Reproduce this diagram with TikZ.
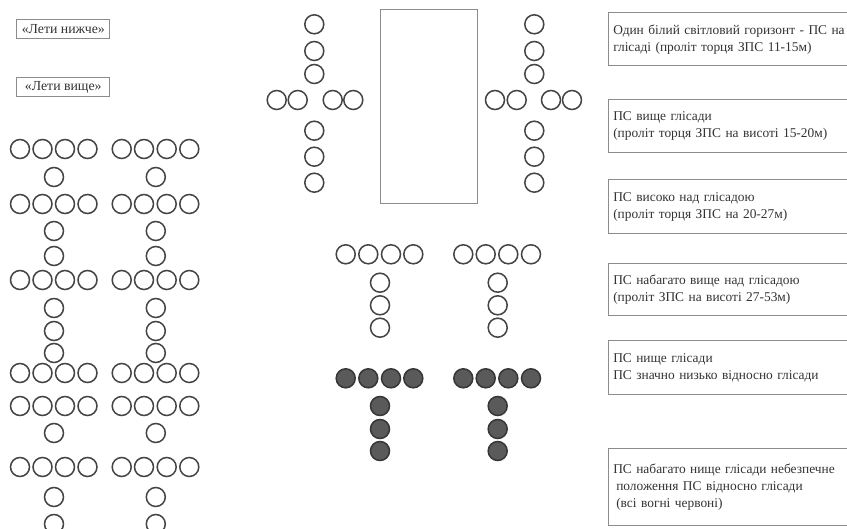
\documentclass[tikz,border=0pt]{standalone}
\usepackage{fontspec}
\setmainfont{Liberation Serif}
\definecolor{lampline}{HTML}{444444}
\definecolor{lampfill}{HTML}{5A5A5A}
\definecolor{boxline}{HTML}{8C8C8C}
\definecolor{txt}{HTML}{333333}
\tikzset{
  lamp/.style={circle, draw=lampline, line width=1.5pt, minimum size=19pt, inner sep=0pt},
  redlamp/.style={lamp, fill=lampfill, draw=lampline!80!black},
  infobox/.style={draw=boxline, line width=1.1pt, anchor=north west, text width=235pt,
    align=left, inner xsep=5pt, inner ysep=0pt, text=txt,
    font=\fontsize{13.4}{17}\selectfont},
  cmdbox/.style={draw=boxline, line width=1.1pt, minimum width=93pt, minimum height=19.5pt,
    inner sep=0pt, text=txt, font=\fontsize{13.8}{15}\selectfont},
  runway/.style={draw=boxline, line width=1.1pt}
}
\begin{document}
\begin{tikzpicture}[x=1pt,y=-1pt]
\useasboundingbox (0,0) rectangle (847,529);
\clip (0,0) rectangle (847,529);
\fill[white] (0,0) rectangle (847,529);

% command boxes
\node[cmdbox] (low) at (63.3,29.2) {«Лети нижче»};
\node[cmdbox] (high) at (63.3,87) {«Лети вище»};

% left column of signals
\foreach \y [count=\j] in {149,204,280,373,406,467}{
  \foreach \x [count=\i] in {20,42.5,65,87.5,121.7,144,166.7,189.3}{
    \node[lamp] (row\j-\i) at (\x,\y) {};
  }
}
\foreach \y [count=\j] in {177,231,256,308,331,353,433,497,524}{
  \node[lamp] (sa\j) at (54,\y) {};
  \node[lamp] (sb\j) at (155.8,\y) {};
}

% runway
\node[runway, minimum width=96.7pt, minimum height=194.3pt, anchor=north west, inner sep=0pt] (rwy) at (380,9) {};

% crosses
\foreach \y [count=\j] in {24.3,51,74,130.7,156.7,182.7}{
  \node[lamp] (cl\j) at (314.3,\y) {};
  \node[lamp] (cr\j) at (534.3,\y) {};
}
\foreach \x [count=\i] in {276.7,297.7,332.7,353.3}{
  \node[lamp] (hl\i) at (\x,100) {};
}
\foreach \x [count=\i] in {495,516.7,551,572}{
  \node[lamp] (hr\i) at (\x,100) {};
}

% T shapes
\foreach \x [count=\i] in {345.7,368.3,391,413.3,463.3,485.7,508.3,531}{
  \node[lamp] (tw\i) at (\x,254.3) {};
  \node[redlamp] (tr\i) at (\x,378.3) {};
}
\foreach \y [count=\j] in {282.7,305.3,327.7}{
  \node[lamp] (twa\j) at (380,\y) {};
  \node[lamp] (twb\j) at (497.7,\y) {};
}
\foreach \y [count=\j] in {406,429,451}{
  \node[redlamp] (tra\j) at (380,\y) {};
  \node[redlamp] (trb\j) at (497.7,\y) {};
}

% explanation boxes
\node[infobox, minimum height=52.7pt] (b1) at (607.7,12.3)
  {Один білий світловий горизонт - ПС на\\глісаді (проліт торця ЗПС 11-15м)};
\node[infobox, minimum height=53.3pt] (b2) at (607.7,99)
  {ПС вище глісади\\(проліт торця ЗПС на висоті 15-20м)};
\node[infobox, minimum height=54.3pt] (b3) at (607.7,179)
  {ПС високо над глісадою\\(проліт торця ЗПС на 20-27м)};
\node[infobox, minimum height=52.3pt] (b4) at (607.7,262.7)
  {ПС набагато вище над глісадою\\(проліт ЗПС на висоті 27-53м)};
\node[infobox, minimum height=54pt] (b5) at (607.7,340)
  {ПС нище глісади\\ПС значно низько відносно глісади};
\node[infobox, minimum height=76.7pt] (b6) at (607.7,448.3)
  {ПС набагато нище глісади небезпечне\\\hspace*{3pt}положення ПС відносно глісади\\\hspace*{3pt}(всі вогні червоні)};
\end{tikzpicture}
\end{document}
